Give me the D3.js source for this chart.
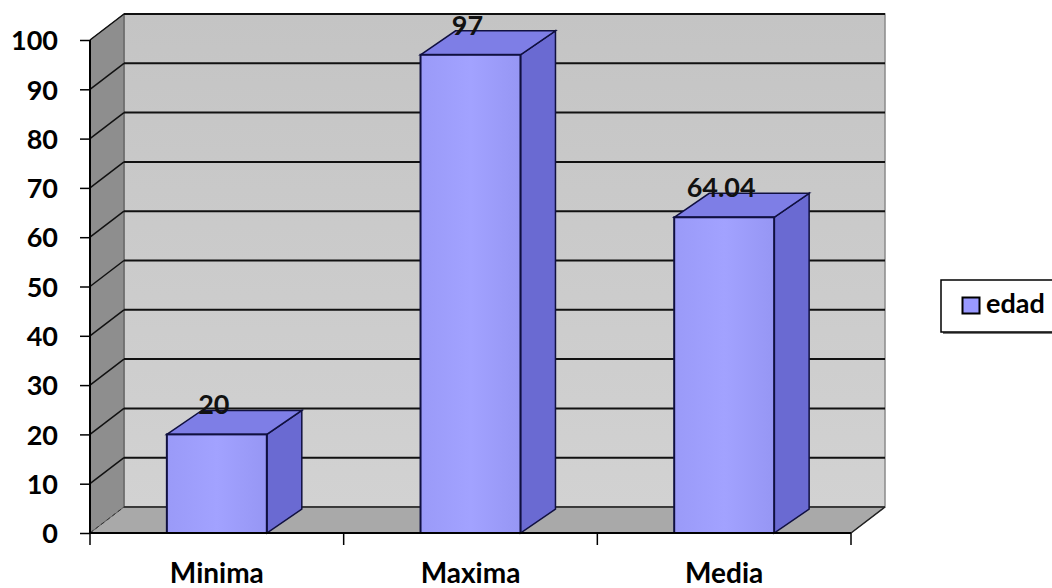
<!DOCTYPE html>
<html><head><meta charset="utf-8">
<script src="https://cdn.jsdelivr.net/npm/d3@7"></script>
<style>body{margin:0;background:#fff}svg{display:block}</style>
</head><body>
<script>
const categories = ["Minima", "Maxima", "Media"];
const values = [20, 97, 64.04];
const valueLabels = ["20", "97", "64.04"];
const yTicks = [0, 10, 20, 30, 40, 50, 60, 70, 80, 90, 100];
const seriesName = "edad";

const W = 1052, H = 588;
const FONT = "Lato, 'Open Sans', sans-serif";
const svg = d3.select("body").append("svg").attr("width", W).attr("height", H);

const x0 = 90, x1 = 851, yBase = 533, yTop = 40;
const DX = 34, DY = -26;     // wall depth
const BDX = 35, BDY = -24;   // bar depth

const x = d3.scaleBand().domain(categories).range([x0, x1]).paddingInner(0.606).paddingOuter(0.303);
const y = d3.scaleLinear().domain([0, 100]).range([yBase, yTop]);

const defs = svg.append("defs");
const gWall = defs.append("linearGradient").attr("id", "wall").attr("x1", 0).attr("y1", 0).attr("x2", 0).attr("y2", 1);
gWall.append("stop").attr("offset", 0).attr("stop-color", "#c4c4c4");
gWall.append("stop").attr("offset", 1).attr("stop-color", "#d2d2d2");
const gFront = defs.append("linearGradient").attr("id", "front").attr("x1", 0).attr("y1", 0).attr("x2", 1).attr("y2", 0);
gFront.append("stop").attr("offset", 0).attr("stop-color", "#9a9af8");
gFront.append("stop").attr("offset", 0.5).attr("stop-color", "#a2a2ff");
gFront.append("stop").attr("offset", 1).attr("stop-color", "#9696f4");

const pts = a => a.map(p => p.join(",")).join(" ");

// back wall
svg.append("polygon").attr("points", pts([[x0 + DX, yTop + DY], [x1 + DX, yTop + DY], [x1 + DX, yBase + DY], [x0 + DX, yBase + DY]]))
  .attr("fill", "url(#wall)").attr("stroke", "#8a8a8a").attr("stroke-width", 1.5);
svg.append("line").attr("x1", x0 + DX).attr("x2", x1 + DX).attr("y1", yTop + DY).attr("y2", yTop + DY).attr("stroke", "#111").attr("stroke-width", 2);
// left side wall
svg.append("polygon").attr("points", pts([[x0, yTop], [x0 + DX, yTop + DY], [x0 + DX, yBase + DY], [x0, yBase]]))
  .attr("fill", "#8e8e8e").attr("stroke", "#555").attr("stroke-width", 1);
// floor
svg.append("polygon").attr("points", pts([[x0, yBase], [x0 + DX, yBase + DY], [x1 + DX, yBase + DY], [x1, yBase]]))
  .attr("fill", "#a9a9a9").attr("stroke", "#666").attr("stroke-width", 1);

// gridlines on back wall and side wall
const grid = svg.append("g");
yTicks.forEach(t => {
  if (t === 0) return;
  grid.append("line").attr("x1", x0 + DX).attr("x2", x1 + DX).attr("y1", y(t) + DY).attr("y2", y(t) + DY)
    .attr("stroke", "#111").attr("stroke-width", 2);
  grid.append("line").attr("x1", x0).attr("x2", x0 + DX).attr("y1", y(t)).attr("y2", y(t) + DY)
    .attr("stroke", "#111").attr("stroke-width", 1.5);
});
// floor back edge
svg.append("line").attr("x1", x0 + DX).attr("x2", x1 + DX).attr("y1", yBase + DY).attr("y2", yBase + DY).attr("stroke", "#222").attr("stroke-width", 1.5);
svg.append("line").attr("x1", x0).attr("x2", x0 + DX).attr("y1", yBase).attr("y2", yBase + DY).attr("stroke", "#333").attr("stroke-width", 1).attr("stroke-dasharray", "4,3");
svg.append("line").attr("x1", x1).attr("x2", x1 + DX).attr("y1", yBase).attr("y2", yBase + DY).attr("stroke", "#222").attr("stroke-width", 1.5);

// bars
const bars = svg.append("g").selectAll("g").data(categories).join("g");
bars.each(function (c, i) {
  const g = d3.select(this);
  const l = x(c), r = x(c) + x.bandwidth(), t = y(values[i]);
  g.append("polygon").attr("points", pts([[r, t], [r + BDX, t + BDY], [r + BDX, yBase + BDY], [r, yBase]]))
    .attr("fill", "#6a6ad2").attr("stroke", "#101040").attr("stroke-width", 1.5);
  g.append("polygon").attr("points", pts([[l, t], [l + BDX, t + BDY], [r + BDX, t + BDY], [r, t]]))
    .attr("fill", "#7e7ee6").attr("stroke", "#101040").attr("stroke-width", 1.5);
  g.append("rect").attr("x", l).attr("y", t).attr("width", r - l).attr("height", yBase - t)
    .attr("fill", "url(#front)").attr("stroke", "#101040").attr("stroke-width", 2);
  g.append("text").attr("x", (l + r) / 2 - 3).attr("y", t + BDY + 4)
    .attr("text-anchor", "middle").attr("font-family", FONT).attr("font-weight", "bold").attr("font-size", 27)
    .attr("fill", "#111").text(valueLabels[i]);
});

// front axis lines
svg.append("line").attr("x1", x0).attr("x2", x1).attr("y1", yBase).attr("y2", yBase).attr("stroke", "#000").attr("stroke-width", 2);

// y axis
const yAxis = svg.append("g").attr("transform", `translate(${x0},0)`)
  .call(d3.axisLeft(y).tickValues(yTicks).tickSize(10).tickPadding(22).tickFormat(d3.format("d")));
yAxis.select(".domain").attr("stroke", "#000").attr("stroke-width", 2).attr("d", `M0,${yTop}V${yBase}`);
yAxis.selectAll(".tick line").attr("stroke", "#000").attr("stroke-width", 1.5);
yAxis.selectAll("text").attr("font-family", FONT).attr("font-weight", "bold").attr("font-size", 27).attr("fill", "#000")
  .attr("dy", "0.36em");

// x axis
const xAxis = svg.append("g").attr("transform", `translate(0,${yBase})`)
  .call(d3.axisBottom(x).tickSize(0).tickPadding(0));
xAxis.select(".domain").remove();
xAxis.selectAll("text").attr("font-family", FONT).attr("font-weight", "bold").attr("font-size", 28).attr("fill", "#000")
  .attr("dy", null).attr("y", 50);
const bounds = categories.map(c => x(c) - x.step() * x.paddingInner() / 2).concat([x1]);
xAxis.selectAll(".sep").data(bounds).join("line").attr("class", "sep")
  .attr("x1", d => d).attr("x2", d => d).attr("y1", 0).attr("y2", 12).attr("stroke", "#000").attr("stroke-width", 1.5);

// legend
const lg = svg.append("g");
lg.append("rect").attr("x", 943).attr("y", 282).attr("width", 112).attr("height", 52).attr("fill", "#777");
lg.append("rect").attr("x", 941).attr("y", 280).attr("width", 112).attr("height", 52).attr("fill", "#fff").attr("stroke", "#000").attr("stroke-width", 1.5);
lg.append("rect").attr("x", 962.5).attr("y", 297.5).attr("width", 17).attr("height", 16).attr("fill", "#9999ff").attr("stroke", "#000").attr("stroke-width", 2);
lg.append("text").attr("x", 986).attr("y", 313).attr("font-family", FONT).attr("font-weight", "bold").attr("font-size", 27).attr("fill", "#000").text(seriesName);
</script>
</body></html>
